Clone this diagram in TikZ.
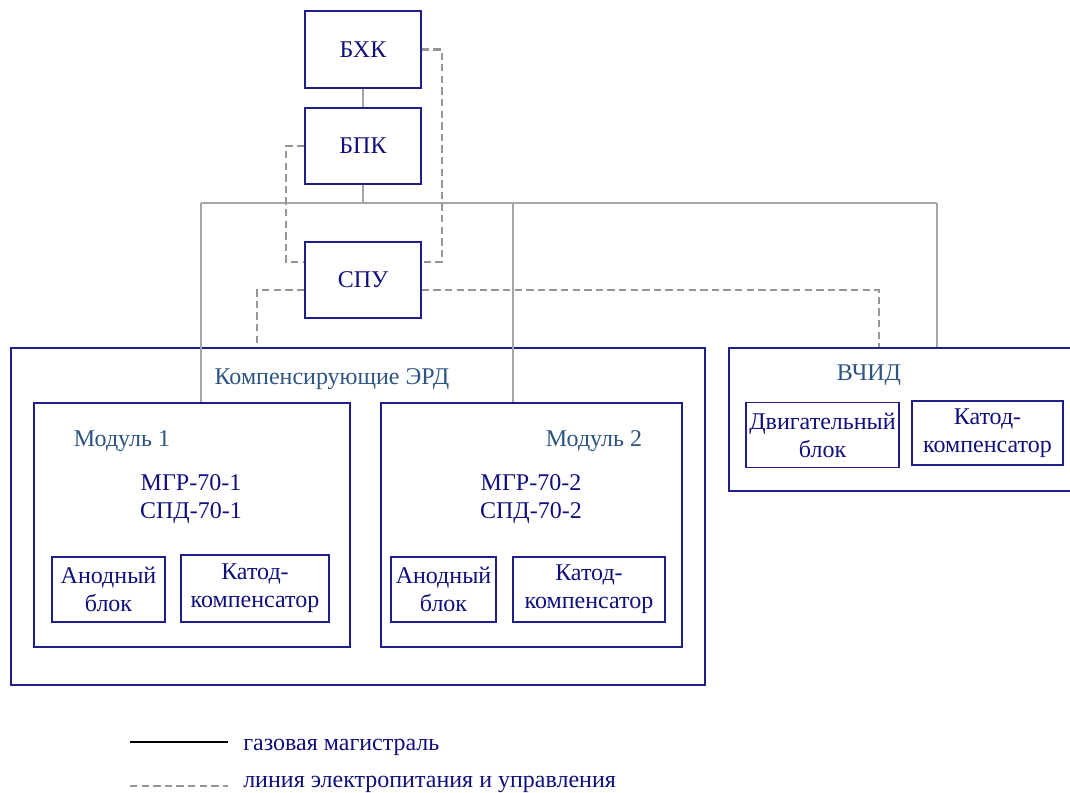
\documentclass[tikz,border=0pt]{standalone}
\usepackage{fontspec}
\setmainfont{Liberation Serif}
\definecolor{boxc}{RGB}{30,30,140}
\definecolor{txtc}{RGB}{15,15,125}
\definecolor{lblc}{RGB}{46,84,130}
\definecolor{gasc}{RGB}{165,165,165}
\definecolor{pwc}{RGB}{150,150,150}
\tikzset{
  box/.style={draw=boxc, line width=1.3pt, inner sep=0pt, text=txtc, align=center, font=\fontsize{18}{21}\selectfont},
  lbl/.style={inner sep=0pt, text=lblc, font=\fontsize{18}{21}\selectfont},
  txt/.style={inner sep=0pt, text=txtc, align=center, font=\fontsize{18}{21}\selectfont},
  gas/.style={draw=gasc, line width=1pt},
  pw/.style={draw=pwc, line width=2pt, dash pattern=on 5.5pt off 3.2pt},
}
\begin{document}
\begin{tikzpicture}[x=0.75pt, y=-0.75pt]
\useasboundingbox (0,0) rectangle (1070,792);
% top blocks
\node[box, minimum width=87pt, minimum height=57.75pt] (bhk) at (363,49.5) {БХК};
\node[box, minimum width=87pt, minimum height=57pt] (bpk) at (363,146) {БПК};
\node[box, minimum width=87pt, minimum height=57pt] (spu) at (363,280) {СПУ};
% big box
\node[box, minimum width=520.5pt, minimum height=252.75pt] (erd) at (358,516.5) {};
\node[lbl] (erdl) at (332,379) {Компенсирующие ЭРД};
% module 1
\node[box, minimum width=237pt, minimum height=183pt] (m1) at (192,525) {};
\node[lbl] (m1l) at (122,441) {Модуль 1};
\node[txt] (m1t) at (191,499) {МГР-70-1\\СПД-70-1};
\node[box, minimum width=84.75pt, minimum height=48.75pt] (an1) at (108.5,589.5) {Анодный\\блок};
\node[box, minimum width=111pt, minimum height=50.25pt] (kk1) at (255,588.5) {Катод-\\компенсатор};
% module 2
\node[box, minimum width=225.75pt, minimum height=183pt] (m2) at (531.5,525) {};
\node[lbl] (m2l) at (594,441) {Модуль 2};
\node[txt] (m2t) at (531,499) {МГР-70-2\\СПД-70-2};
\node[box, minimum width=78.75pt, minimum height=48.75pt] (an2) at (443.5,589.5) {Анодный\\блок};
\node[box, minimum width=114pt, minimum height=48.75pt] (kk2) at (589,589.5) {Катод-\\компенсатор};
% VChID
\node[box, minimum width=258pt, minimum height=107.25pt] (vch) at (901,419.5) {};
\node[lbl] (vchl) at (869,375) {ВЧИД};
\node[box, minimum width=114.75pt, minimum height=48.75pt] (dv) at (822.5,435) {Двигательный\\блок};
\node[box, minimum width=113.25pt, minimum height=48pt] (kk3) at (987.5,433) {Катод-\\компенсатор};
% gas lines
\coordinate (jc) at (363,203);
\coordinate (j1) at (201,203);
\coordinate (j2) at (513,203);
\coordinate (j3) at (937,203);
\draw[gas] (bhk.south) -- (bpk.north);
\draw[gas] (bpk.south) -- (jc);
\draw[gas] (j1) -- (j3);
\draw[gas] (j1) -- (j1 |- m1.north);
\draw[gas] (j2) -- (j2 |- m2.north);
\draw[gas] (j3) -- (j3 |- vch.north);
% power / control lines
\coordinate (c1) at (442,262);
\coordinate (c2) at (286,262);
\coordinate (c3) at (257,290);
\coordinate (c4) at (879,290);
\draw[pw] (bhk.east) -| (c1) -- (spu.east |- c1);
\draw[pw] (bpk.west) -| (c2) -- (spu.west |- c2);
\draw[pw] (spu.west |- c3) -| (c3 |- erd.north);
\draw[pw] (spu.east |- c4) -| (c4 |- vch.north);
% legend
\coordinate (la1) at (130,742);
\coordinate (lb1) at (228,742);
\coordinate (la2) at (130,786);
\coordinate (lb2) at (228,786);
\draw[black, line width=1.3pt] (la1) -- (lb1);
\draw[pw] (la2) -- (lb2);
\node[txt, anchor=west] (lt1) at (243,747) {газовая магистраль};
\node[txt, anchor=west] (lt2) at (243,784) {линия электропитания и управления};
\end{tikzpicture}
\end{document}
